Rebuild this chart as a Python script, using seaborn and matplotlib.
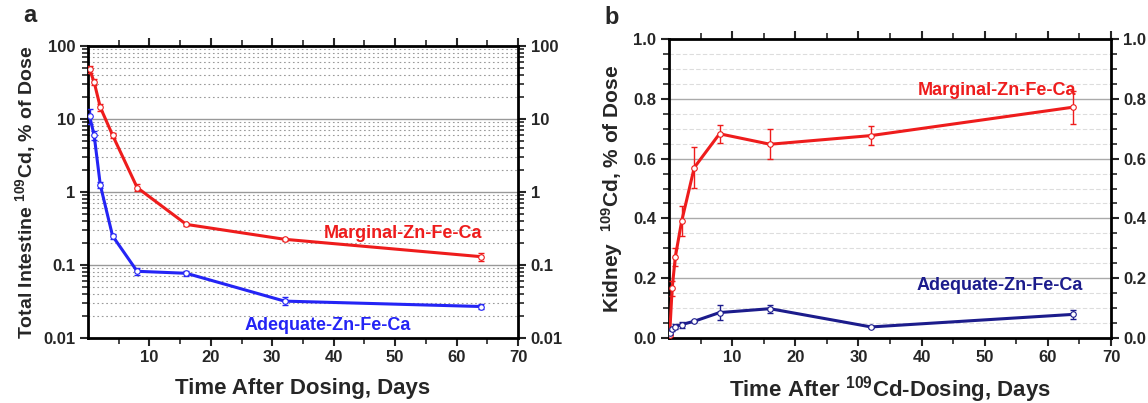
import matplotlib
matplotlib.use("Agg")
import matplotlib.pyplot as plt
import matplotlib.ticker as mticker
import pandas as pd
import seaborn as sns

# panel a: total intestine, log scale
days_a = [0.25, 1, 2, 4, 8, 16, 32, 64]
marg_a = [48, 32, 14.5, 6.0, 1.15, 0.36, 0.225, 0.13]
marg_a_err = [5, 3, 1.5, 0.5, 0.12, 0.02, 0.012, 0.017]
adeq_a = [11, 6.0, 1.25, 0.25, 0.082, 0.077, 0.032, 0.027]
adeq_a_err = [2.5, 0.8, 0.12, 0.02, 0.01, 0.006, 0.004, 0.002]

# panel b: kidney, linear scale
days_b = [0.1, 0.5, 1, 2, 4, 8, 16, 32, 64]
marg_b = [0.01, 0.166, 0.271, 0.39, 0.57, 0.683, 0.648, 0.677, 0.772]
marg_b_err = [0.0, 0.025, 0.03, 0.05, 0.068, 0.03, 0.05, 0.033, 0.055]
adeq_b = [0.018, 0.03, 0.038, 0.045, 0.056, 0.085, 0.098, 0.037, 0.079]
adeq_b_err = [0.004, 0.005, 0.008, 0.01, 0.004, 0.025, 0.013, 0.003, 0.015]

RED = "#ee1c1c"
BLUE = "#2424f5"
NAVY = "#1c1c8c"

sns.set_theme(style="ticks")
plt.rcParams["font.family"] = ["Liberation Sans", "DejaVu Sans"]
plt.rcParams["font.weight"] = "bold"
plt.rcParams["mathtext.fontset"] = "custom"
plt.rcParams["mathtext.rm"] = "Liberation Sans:bold"
plt.rcParams["mathtext.bf"] = "Liberation Sans:bold"
plt.rcParams["mathtext.it"] = "Liberation Sans:bold"

fig = plt.figure(figsize=(11.48, 4.03), dpi=100)
ax_a = fig.add_axes([88 / 1148, 1 - 338 / 403, 430 / 1148, 292 / 403])
ax_b = fig.add_axes([669 / 1148, 1 - 338 / 403, 442 / 1148, 299 / 403])


def draw_series(ax, days, vals, errs, color):
    df = pd.DataFrame({"day": days, "val": vals})
    sns.lineplot(data=df, x="day", y="val", ax=ax, color=color, linewidth=2.2,
                 marker="o", markersize=4, markerfacecolor="white",
                 markeredgecolor=color, markeredgewidth=0.8, zorder=4)
    ax.errorbar(days, vals, yerr=errs, fmt="none", ecolor=color,
                elinewidth=1, capsize=2.5, capthick=1, zorder=3)


def style_axes(ax):
    for s in ax.spines.values():
        s.set_linewidth(2)
        s.set_color("black")
    ax.set_xlim(0, 70)
    ax.xaxis.set_major_locator(mticker.FixedLocator([10, 20, 30, 40, 50, 60, 70]))
    ax.xaxis.set_minor_locator(mticker.FixedLocator([5, 15, 25, 35, 45, 55, 65]))
    ax.tick_params(axis="both", which="major", direction="out", length=6, width=1.5,
                   labelsize=12, top=True, right=True, labelright=True, pad=3)
    ax.tick_params(axis="both", which="minor", direction="out", length=4, width=1.2,
                   top=True, right=True)
    for lbl in ax.get_xticklabels() + ax.get_yticklabels():
        lbl.set_fontweight("bold")
    ax.grid(False)


# ---- panel a ----
ax = ax_a
ax.set_yscale("log")
ax.set_ylim(0.01, 100)
ax.yaxis.set_major_locator(mticker.FixedLocator([0.01, 0.1, 1, 10, 100]))
ax.yaxis.set_major_formatter(mticker.FixedFormatter(["0.01", "0.1", "1", "10", "100"]))
ax.yaxis.set_minor_locator(mticker.LogLocator(base=10, subs=range(2, 10)))
ax.yaxis.set_minor_formatter(mticker.NullFormatter())
style_axes(ax)
for y in [0.1, 1, 10]:
    ax.axhline(y, color="#999999", linewidth=1, zorder=1)
for dec in [0.01, 0.1, 1, 10]:
    for k in range(2, 10):
        ax.axhline(dec * k, color="#9a9a9a", linewidth=0.8, linestyle=(0, (1.5, 2.5)), zorder=1)
draw_series(ax, days_a, marg_a, marg_a_err, RED)
draw_series(ax, days_a, adeq_a, adeq_a_err, BLUE)
ax.text(51.3, 0.27, "Marginal-Zn-Fe-Ca", color=RED, fontsize=13, fontweight="bold",
        ha="center", va="center")
ax.text(39, 0.015, "Adequate-Zn-Fe-Ca", color=BLUE, fontsize=13, fontweight="bold",
        ha="center", va="center")
ax.set_xlabel("Time After Dosing, Days", fontsize=16, fontweight="bold", labelpad=9)
ax.set_ylabel("Total Intestine $^{109}$Cd, % of Dose", fontsize=14, fontweight="bold",
              labelpad=4)

# ---- panel b ----
ax = ax_b
ax.set_ylim(0, 1.0)
ax.yaxis.set_major_locator(mticker.MultipleLocator(0.2))
ax.yaxis.set_major_formatter(mticker.FormatStrFormatter("%.1f"))
ax.yaxis.set_minor_locator(mticker.MultipleLocator(0.05))
style_axes(ax)
for y in [0.2, 0.4, 0.6, 0.8]:
    ax.axhline(y, color="#aaaaaa", linewidth=1, zorder=1)
for i in range(1, 20):
    y = i * 0.05
    if i % 4 != 0:
        ax.axhline(y, color="#dddddd", linewidth=0.8, linestyle=(0, (4, 2)), zorder=1)
draw_series(ax, days_b, marg_b, marg_b_err, RED)
draw_series(ax, days_b, adeq_b, adeq_b_err, NAVY)
ax.text(52, 0.827, "Marginal-Zn-Fe-Ca", color=RED, fontsize=13, fontweight="bold",
        ha="center", va="center")
ax.text(52.4, 0.177, "Adequate-Zn-Fe-Ca", color=NAVY, fontsize=13, fontweight="bold",
        ha="center", va="center")
ax.set_xlabel("Time After $^{109}$Cd-Dosing, Days", fontsize=16, fontweight="bold", labelpad=6)
ax.set_ylabel("Kidney  $^{109}$Cd, % of Dose", fontsize=15, fontweight="bold", labelpad=6)

fig.text(30 / 1148, 1 - 15 / 403, "a", fontsize=17, fontweight="bold", ha="center", va="center")
fig.text(612 / 1148, 1 - 17 / 403, "b", fontsize=17, fontweight="bold", ha="center", va="center")

fig.savefig("out.png", dpi=100)
